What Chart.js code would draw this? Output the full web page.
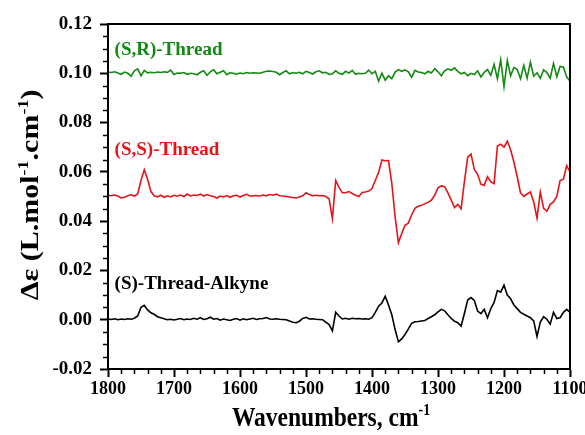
<!DOCTYPE html>
<html><head><meta charset="utf-8">
<script src="https://cdn.jsdelivr.net/npm/chart.js@4/dist/chart.umd.min.js"></script>
<style>html,body{margin:0;padding:0;background:#fff;overflow:hidden}#wrap{width:585px;height:435px}</style>
</head><body><div id="wrap"><canvas id="c" width="585" height="435"></canvas></div>
<script>
const wavenumbers = [1800,1795,1790,1785,1780,1775,1770,1765,1760,1755,1750,1745,1740,1735,1730,1725,1720,1715,1710,1705,
1700,1695,1690,1685,1680,1675,1670,1665,1660,1655,1650,1645,1640,1635,1630,1625,1620,1615,1610,1605,
1600,1595,1590,1585,1580,1575,1570,1565,1560,1555,1550,1545,1540,1535,1530,1525,1520,1515,1510,1505,
1500,1495,1490,1485,1480,1475,1470,1465,1460,1455,1450,1445,1440,1435,1430,1425,1420,1415,1410,1405,
1400,1395,1390,1385,1380,1375,1370,1365,1360,1355,1350,1345,1340,1335,1330,1325,1320,1315,1310,1305,
1300,1295,1290,1285,1280,1275,1270,1265,1260,1255,1250,1245,1240,1235,1230,1225,1220,1215,1210,1205,
1200,1195,1190,1185,1180,1175,1170,1165,1160,1155,1150,1145,1140,1135,1130,1125,1120,1115,1110,1105,1100];

const srThread = [0.1005,0.1003,0.1006,0.1001,0.0996,0.1005,0.1000,0.0988,0.1010,0.1018,0.0990,0.1012,0.1002,0.1004,0.1002,0.1005,0.1003,0.1006,0.1004,0.1013,
0.0995,0.1001,0.1000,0.1003,0.0996,0.1000,0.0998,0.0994,0.1004,0.1010,0.0992,0.1006,0.1014,0.0998,0.1004,0.1010,0.0994,0.1002,0.1000,0.0996,
0.1001,0.0998,0.1003,0.1000,0.1002,0.1001,0.1000,0.1004,0.1008,0.1009,0.1007,0.1004,0.0994,0.1003,0.1010,0.0998,0.1003,0.1000,0.1004,0.0998,
0.1008,0.1003,0.0997,0.1006,0.1010,0.1002,0.1004,0.0995,0.0998,0.1010,0.1000,0.0996,0.1008,0.1001,0.1012,0.0996,0.1000,0.0998,0.1000,0.1013,
0.0998,0.1008,0.0968,0.1000,0.0972,0.0990,0.0978,0.1005,0.1015,0.1008,0.1014,0.1006,0.0984,0.1012,0.1005,0.1003,0.0998,0.1008,0.1001,0.1019,
0.1006,0.0990,0.1010,0.1018,0.1012,0.1022,0.1008,0.0998,0.1003,0.0990,0.1000,0.0995,0.1010,0.0985,0.1004,0.1015,0.0992,0.1036,0.0978,0.1054,
0.0946,0.1052,0.0990,0.1024,0.1015,0.0978,0.1032,0.0980,0.1045,0.0988,0.1002,0.0980,0.1014,0.1003,0.0980,0.1040,0.0986,0.1028,0.1026,0.0985,0.0968];

const ssThread = [0.0505,0.0503,0.0506,0.0502,0.0494,0.0497,0.0503,0.0507,0.0502,0.0510,0.0565,0.0608,0.0570,0.0520,0.0503,0.0498,0.0505,0.0497,0.0503,0.0498,
0.0505,0.0501,0.0506,0.0500,0.0510,0.0502,0.0506,0.0504,0.0510,0.0502,0.0508,0.0503,0.0500,0.0494,0.0502,0.0498,0.0504,0.0497,0.0503,0.0505,
0.0498,0.0504,0.0509,0.0502,0.0503,0.0504,0.0502,0.0506,0.0502,0.0508,0.0505,0.0510,0.0503,0.0502,0.0500,0.0498,0.0496,0.0494,0.0498,0.0503,
0.0515,0.0508,0.0503,0.0505,0.0503,0.0504,0.0500,0.0490,0.0410,0.0565,0.0537,0.0515,0.0515,0.0520,0.0512,0.0505,0.0500,0.0516,0.0518,0.0522,
0.0532,0.0565,0.0598,0.0648,0.0645,0.0646,0.0553,0.0418,0.0312,0.0350,0.0383,0.0392,0.0425,0.0452,0.0460,0.0464,0.0470,0.0476,0.0485,0.0505,
0.0535,0.0543,0.0540,0.0515,0.0485,0.0455,0.0468,0.0450,0.0560,0.0660,0.0672,0.0610,0.0590,0.0550,0.0545,0.0580,0.0560,0.0552,0.0705,0.0712,
0.0700,0.0725,0.0690,0.0640,0.0580,0.0515,0.0500,0.0510,0.0518,0.0478,0.0412,0.0518,0.0452,0.0440,0.0468,0.0478,0.0500,0.0565,0.0570,0.0625,0.0600];

const alkyne = [0.0003,0.0001,0.0004,0.0000,0.0003,0.0001,0.0004,0.0002,0.0006,0.0015,0.0050,0.0058,0.0040,0.0028,0.0022,0.0012,0.0008,0.0004,0.0000,0.0002,
-0.0001,0.0002,0.0005,0.0000,0.0003,0.0001,0.0006,0.0002,0.0008,0.0001,0.0004,0.0010,0.0002,0.0005,-0.0002,0.0003,0.0000,-0.0003,0.0002,0.0005,
-0.0002,0.0004,0.0000,0.0003,0.0006,0.0001,0.0004,0.0005,0.0009,0.0003,0.0002,0.0004,0.0002,0.0001,0.0000,-0.0005,-0.0010,-0.0012,-0.0006,0.0005,
0.0010,0.0003,0.0004,0.0002,0.0001,0.0000,-0.0010,-0.0020,-0.0045,0.0030,0.0015,0.0003,0.0006,0.0002,0.0006,0.0004,0.0005,0.0003,0.0004,0.0002,
0.0008,0.0030,0.0055,0.0068,0.0095,0.0060,0.0020,-0.0040,-0.0090,-0.0078,-0.0060,-0.0038,-0.0015,-0.0008,-0.0007,-0.0005,-0.0003,0.0005,0.0012,0.0020,
0.0032,0.0042,0.0036,0.0020,0.0005,-0.0006,-0.0012,-0.0026,0.0025,0.0080,0.0090,0.0078,0.0035,0.0025,0.0042,0.0008,0.0045,0.0070,0.0118,0.0112,
0.0140,0.0100,0.0085,0.0060,0.0045,0.0030,0.0022,0.0015,0.0008,-0.0005,-0.0068,-0.0010,0.0012,0.0002,-0.0018,0.0030,0.0005,0.0008,0.0030,0.0042,0.0030];

const seriesNames = ['(S,R)-Thread', '(S,S)-Thread', '(S)-Thread-Alkyne'];
const xTickLabels = [1800, 1700, 1600, 1500, 1400, 1300, 1200, 1100];
const yTickLabels = [-0.02, 0.00, 0.02, 0.04, 0.06, 0.08, 0.10, 0.12];
const xTitle = ['Wavenumbers, cm', '-1'];
const yTitle = ['\u0394\u03b5 (L.mol', '-1', '.cm', '-1', ')'];

const colors = ['#108a10', '#e6141a', '#000000'];
const FONT = '"Liberation Serif", "Times New Roman", serif';

const toPts = arr => wavenumbers.map((w, i) => ({x: w, y: arr[i]}));

const decor = {
  id: 'decor',
  afterDraw(chart) {
    const ctx = chart.ctx, a = chart.chartArea;
    const xs = chart.scales.x, ys = chart.scales.y;
    ctx.save();
    ctx.strokeStyle = '#000'; ctx.lineWidth = 2;
    ctx.strokeRect(a.left, a.top, a.right - a.left, a.bottom - a.top);
    ctx.lineWidth = 1.5;
    ctx.beginPath();
    for (let v = 1800; v >= 1100; v -= 20) {
      if (v % 100 === 0) continue;
      const px = Math.round(xs.getPixelForValue(v)) + 0.5;
      ctx.moveTo(px, a.bottom); ctx.lineTo(px, a.bottom + 5);
    }
    for (let k = -4; k <= 24; k++) {
      if (k % 4 === 0) continue;
      const py = Math.round(ys.getPixelForValue(k * 0.005)) + 0.5;
      ctx.moveTo(a.left, py); ctx.lineTo(a.left - 5, py);
    }
    ctx.stroke();
    ctx.font = 'bold 19px ' + FONT;
    ctx.textBaseline = 'alphabetic'; ctx.textAlign = 'left';
    const lx = xs.getPixelForValue(1790);
    const ly = [ys.getPixelForValue(0.1074), ys.getPixelForValue(0.0668), ys.getPixelForValue(0.0125)];
    seriesNames.forEach((n, i) => { ctx.fillStyle = colors[i]; ctx.fillText(n, lx, ly[i]); });
    const drawParts = (parts, size, cx, cy, rot, sx) => {
      const supSize = Math.round(size * 0.6);
      const widths = parts.map((p, i) => {
        ctx.font = 'bold ' + (i % 2 ? supSize : size) + 'px ' + FONT;
        return ctx.measureText(p).width;
      });
      const total = widths.reduce((s, w) => s + w, 0);
      ctx.save();
      ctx.translate(cx, cy); ctx.rotate(rot); ctx.scale(sx, 1);
      ctx.fillStyle = '#000'; ctx.textAlign = 'left'; ctx.textBaseline = 'alphabetic';
      let x = -total / 2;
      parts.forEach((p, i) => {
        ctx.font = 'bold ' + (i % 2 ? supSize : size) + 'px ' + FONT;
        ctx.fillText(p, x, i % 2 ? -size * 0.42 : 0);
        x += widths[i];
      });
      ctx.restore();
    };
    drawParts(xTitle, 27, 331, 426, 0, 0.87);
    drawParts(yTitle, 25, 38, 195, -Math.PI / 2, 1.2);
    ctx.restore();
  }
};

new Chart(document.getElementById('c'), {
  type: 'line',
  data: {
    datasets: [srThread, ssThread, alkyne].map((arr, i) => ({
      label: seriesNames[i], data: toPts(arr), borderColor: colors[i],
      borderWidth: 1.6, pointRadius: 0, tension: 0, fill: false
    }))
  },
  options: {
    responsive: false, animation: false, devicePixelRatio: 1,
    layout: {padding: {left: 0, top: 24, right: 15, bottom: 0}},
    plugins: {legend: {display: false}, tooltip: {enabled: false}},
    scales: {
      x: {
        type: 'linear', reverse: true, min: 1100, max: 1800,
        afterBuildTicks: s => { s.ticks = xTickLabels.map(v => ({value: v})); },
        afterFit: s => { s.height = 66; s.paddingLeft = 0; s.paddingRight = 0; },
        ticks: {color: '#000', font: {family: FONT, weight: 'bold', size: 18}, padding: 2, maxRotation: 0, autoSkip: false,
                callback: v => String(v)},
        grid: {drawOnChartArea: false, drawTicks: true, tickLength: 8, tickWidth: 2, tickColor: '#000'},
        border: {display: true, color: '#000', width: 2}
      },
      y: {
        type: 'linear', min: -0.02, max: 0.12,
        afterBuildTicks: s => { s.ticks = yTickLabels.map(v => ({value: v})); },
        afterFit: s => { s.width = 108; s.paddingTop = 0; s.paddingBottom = 0; },
        ticks: {color: '#000', font: {family: FONT, weight: 'bold', size: 19}, padding: 8,
                callback: v => v.toFixed(2)},
        grid: {drawOnChartArea: false, drawTicks: true, tickLength: 8, tickWidth: 2, tickColor: '#000'},
        border: {display: true, color: '#000', width: 2}
      }
    }
  },
  plugins: [decor]
});
</script>
</body></html>
